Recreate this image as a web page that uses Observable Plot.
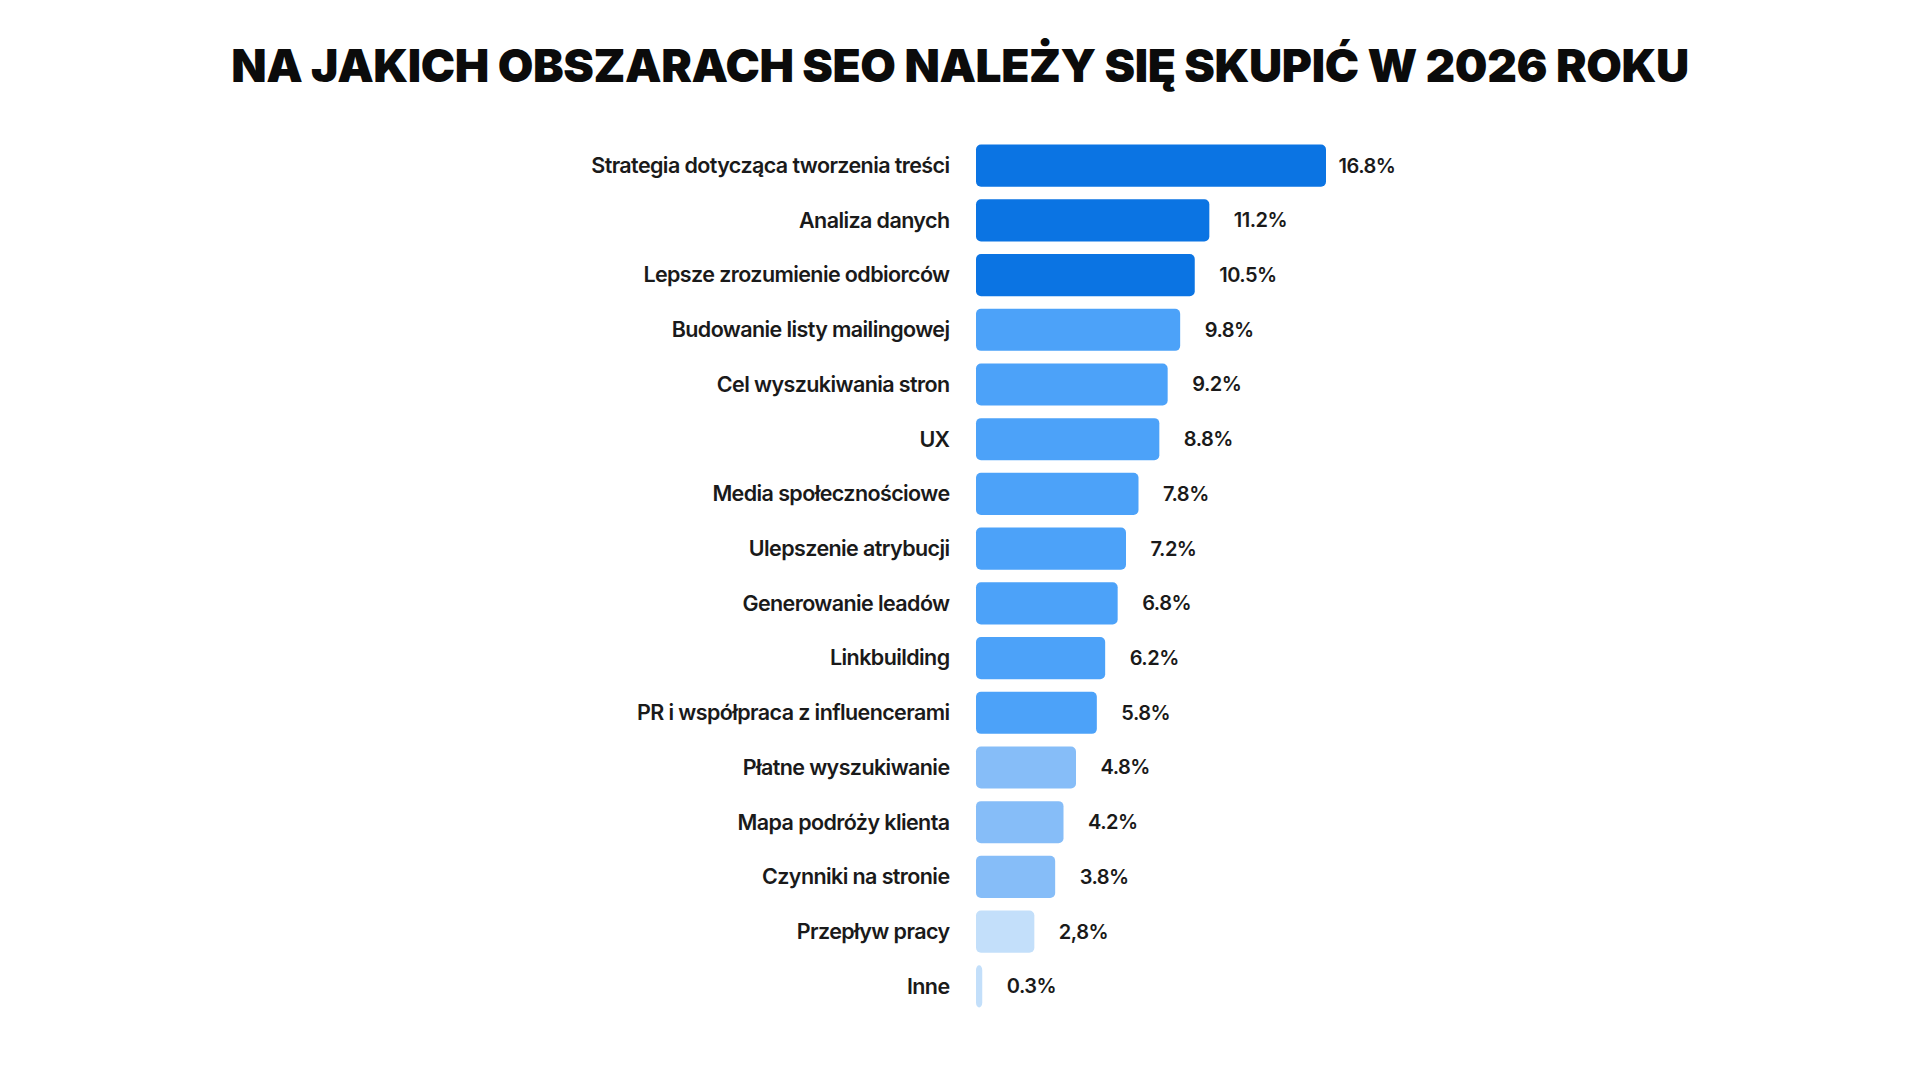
<!DOCTYPE html>
<html><head><meta charset="utf-8">
<script src="https://cdn.jsdelivr.net/npm/d3@7"></script>
<script src="https://cdn.jsdelivr.net/npm/@observablehq/plot@0.6"></script>
<style>
body{margin:0;background:#fff;width:1920px;height:1080px;overflow:hidden;font-family:Inter,sans-serif}
#title{position:absolute;left:0;top:42px;width:1920px;text-align:center;font-family:Inter,sans-serif;font-weight:900;font-size:46px;line-height:46px;color:#0b0b0b;letter-spacing:-0.4px}
#chart{position:absolute;left:0;top:110px}
</style></head><body>
<div id="title">NA JAKICH OBSZARACH SEO NALEŻY SIĘ SKUPIĆ W 2026 ROKU</div>
<div id="chart"></div>
<script>
const categories = [
  "Strategia dotycząca tworzenia treści",
  "Analiza danych",
  "Lepsze zrozumienie odbiorców",
  "Budowanie listy mailingowej",
  "Cel wyszukiwania stron",
  "UX",
  "Media społecznościowe",
  "Ulepszenie atrybucji",
  "Generowanie leadów",
  "Linkbuilding",
  "PR i współpraca z influencerami",
  "Płatne wyszukiwanie",
  "Mapa podróży klienta",
  "Czynniki na stronie",
  "Przepływ pracy",
  "Inne"
];
const values = [16.8, 11.2, 10.5, 9.8, 9.2, 8.8, 7.8, 7.2, 6.8, 6.2, 5.8, 4.8, 4.2, 3.8, 2.8, 0.3];
const valueLabels = ["16.8%", "11.2%", "10.5%", "9.8%", "9.2%", "8.8%", "7.8%", "7.2%", "6.8%", "6.2%", "5.8%", "4.8%", "4.2%", "3.8%", "2,8%", "0.3%"];
const tiers = ["top", "top", "top", "high", "high", "high", "high", "high", "high", "high", "high", "mid", "mid", "mid", "low", "low"];
const tierNames = ["top", "high", "mid", "low"];
const tierColors = ["#0b74e3", "#4ca2f9", "#86bdf8", "#c3dffa"];

const data = categories.map((c, i) => ({category: c, value: values[i], label: valueLabels[i], tier: tiers[i], first: i === 0}));

const plot = Plot.plot({
  width: 1920,
  height: 940,
  marginLeft: 976,
  marginRight: 594,
  marginTop: 22,
  marginBottom: 30,
  x: {domain: [0, 16.8], axis: null},
  y: {domain: categories, padding: 0.23, round: false, axis: null},
  color: {domain: tierNames, range: tierColors},
  style: {fontFamily: "Inter, sans-serif", color: "#1a1a1a", background: "transparent"},
  marks: [
    Plot.barX(data, {x: "value", y: "category", fill: "tier", rx: 5}),
    Plot.text(data.filter(d => d.first), {x: "value", y: "category", text: "label", textAnchor: "start", dx: 12, fontSize: 20, fontWeight: 600, fill: "#1a1a1a"}),
    Plot.text(data.filter(d => !d.first), {x: "value", y: "category", text: "label", textAnchor: "start", dx: 24, fontSize: 20, fontWeight: 600, fill: "#1a1a1a"}),
    Plot.axisY({tickSize: 0, tickPadding: 27, fontSize: 21.5, fontWeight: 600, label: null, fill: "#1a1a1a"})
  ]
});
plot.querySelectorAll("g[aria-label='y-axis tick label'] text").forEach(t => t.setAttribute("letter-spacing", "-0.6px"));
plot.querySelectorAll("g[aria-label='text'] text").forEach(t => t.setAttribute("letter-spacing", "-0.5px"));
document.getElementById("chart").appendChild(plot);
</script>
</body></html>
